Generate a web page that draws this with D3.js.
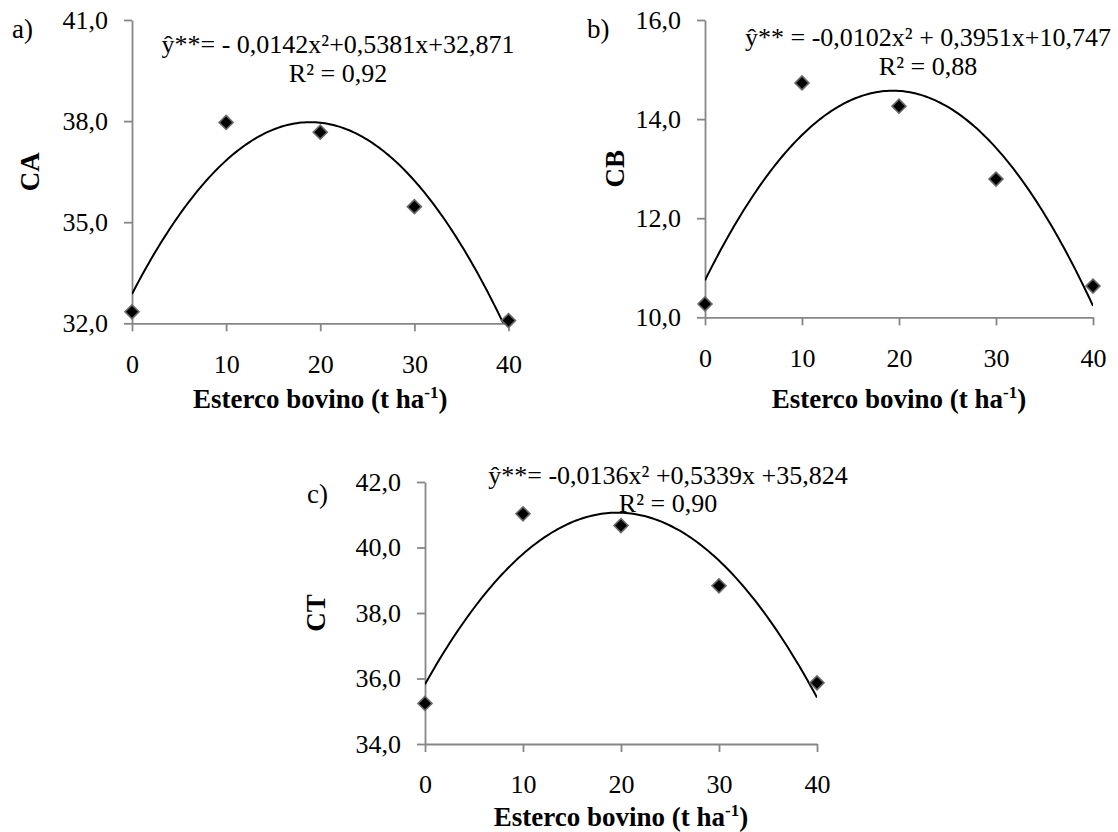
<!DOCTYPE html>
<html lang="pt">
<head>
<meta charset="UTF-8">
<title>Esterco bovino: CA, CB e CT</title>
<script src="https://d3js.org/d3.v7.min.js"></script>
<style>
    body {
        margin: 0;
        background: #fff;
    }
    svg {
        display: block;
        font-family: "Liberation Serif", "Times New Roman", serif;
    }
    .axis path, .axis line {
        stroke: #868686;
        stroke-width: 1.8;
    }
    .axis text {
        font-family: "Liberation Serif", "Times New Roman", serif;
        font-size: 26px;
        fill: #000;
    }
    .eq {
        font-size: 26px;
    }
    .title {
        font-size: 27px;
        font-weight: bold;
    }
</style>
</head>
<body>
<svg id="chart" width="1118" height="832"></svg>
<script>
    // doses of cattle manure (t/ha)
    const doses = [0, 10, 20, 30, 40];

    // values
    const caValues = [32.34, 37.96, 37.67, 35.46, 32.08];
    const cbValues = [10.27, 14.73, 14.26, 12.79, 10.63];
    const ctValues = [35.24, 41.03, 40.67, 38.83, 35.87];

    const caTicks = [32, 35, 38, 41];
    const cbTicks = [10, 12, 14, 16];
    const ctTicks = [34, 36, 38, 40, 42];

    // quadratic trend lines as printed: a*x^2 + b*x + c
    const caCoef = [-0.0142, 0.5381, 32.871];
    const cbCoef = [-0.0102, 0.3951, 10.747];
    const ctCoef = [-0.0136, 0.5339, 35.824];

    const caEquation = "ŷ**= - 0,0142x²+0,5381x+32,871";
    const cbEquation = "ŷ** = -0,0102x² + 0,3951x+10,747";
    const ctEquation = "ŷ**= -0,0136x² +0,5339x +35,824";
    const r2Labels = ["R² = 0,92", "R² = 0,88", "R² = 0,90"];

    const panels = [
        { key: "a", letter: "a)", yLabel: "CA", values: caValues, ticks: caTicks, coef: caCoef, eq: caEquation, r2: r2Labels[0] },
        { key: "b", letter: "b)", yLabel: "CB", values: cbValues, ticks: cbTicks, coef: cbCoef, eq: cbEquation, r2: r2Labels[1] },
        { key: "c", letter: "c)", yLabel: "CT", values: ctValues, ticks: ctTicks, coef: ctCoef, eq: ctEquation, r2: r2Labels[2] }
    ];

    // where each panel sits on the page
    const layout = {
        a: { left: 132, right: 508.5, top: 20, bottom: 323.3, letterX: 12, letterY: 38, eqX: 338, eqY: 53, r2Y: 82, yTitleX: 30, xTitleY: 408 },
        b: { left: 705, right: 1093, top: 20, bottom: 317.3, letterX: 587, letterY: 38, eqX: 928, eqY: 46, r2Y: 75, yTitleX: 615, xTitleY: 408 },
        c: { left: 425, right: 817, top: 482, bottom: 744, letterX: 307, letterY: 503, eqX: 668, eqY: 484, r2Y: 512, yTitleX: 316, xTitleY: 826 }
    };

    const svg = d3.select("#chart");
    svg.append("rect").attr("width", 1118).attr("height", 832).attr("fill", "#fff");

    const comma = d => d.toFixed(1).replace(".", ",");

    panels.forEach(p => {
        const L = layout[p.key];
        const yMin = d3.min(p.ticks), yMax = d3.max(p.ticks);

        const x = d3.scaleLinear().domain([0, 40]).range([L.left, L.right]);
        const y = d3.scaleLinear().domain([yMin, yMax]).range([L.bottom, L.top]);

        const g = svg.append("g");

        // clip for the trend line (it gets cut at the plot area)
        g.append("clipPath")
            .attr("id", "clip-" + p.key)
            .append("rect")
            .attr("x", L.left)
            .attr("y", L.top)
            .attr("width", L.right - L.left)
            .attr("height", L.bottom - L.top);

        g.append("g")
            .attr("class", "axis")
            .attr("transform", `translate(0,${L.bottom})`)
            .call(d3.axisBottom(x).tickValues(doses).tickSize(8).tickSizeOuter(0).tickPadding(23));

        g.append("g")
            .attr("class", "axis")
            .attr("transform", `translate(${L.left},0)`)
            .call(d3.axisLeft(y).tickValues(p.ticks).tickFormat(comma).tickSize(8).tickSizeOuter(0).tickPadding(16));

        // trend line
        const [qa, qb, qc] = p.coef;
        const curve = d3.range(0, 40.01, 0.25).map(v => [v, qa * v * v + qb * v + qc]);
        g.append("path")
            .datum(curve)
            .attr("clip-path", `url(#clip-${p.key})`)
            .attr("fill", "none")
            .attr("stroke", "#000")
            .attr("stroke-width", 2)
            .attr("d", d3.line().x(d => x(d[0])).y(d => y(d[1])));

        // diamond markers
        const diamond = d3.symbol().type(d3.symbolSquare).size(98);
        g.selectAll(".pt")
            .data(p.values)
            .enter()
            .append("path")
            .attr("class", "pt")
            .attr("d", diamond)
            .attr("transform", (d, i) => `translate(${x(doses[i])},${y(d)}) rotate(45)`)
            .attr("fill", "#000")
            .attr("stroke", "#6a6a6a")
            .attr("stroke-width", 1.6);

        // equation and R²
        g.append("text")
            .attr("class", "eq")
            .attr("x", L.eqX)
            .attr("y", L.eqY)
            .attr("text-anchor", "middle")
            .text(p.eq);
        g.append("text")
            .attr("class", "eq")
            .attr("x", L.eqX)
            .attr("y", L.r2Y)
            .attr("text-anchor", "middle")
            .text(p.r2);

        // panel letter
        g.append("text")
            .attr("class", "eq")
            .attr("x", L.letterX)
            .attr("y", L.letterY)
            .style("font-size", "27px")
            .text(p.letter);

        // y title
        const cy = (L.top + L.bottom) / 2;
        g.append("text")
            .attr("class", "title")
            .attr("transform", `translate(${L.yTitleX + 9},${cy}) rotate(-90)`)
            .attr("text-anchor", "middle")
            .text(p.yLabel);

        // x title
        const xt = g.append("text")
            .attr("class", "title")
            .attr("x", (L.left + L.right) / 2)
            .attr("y", L.xTitleY)
            .attr("text-anchor", "middle");
        xt.append("tspan").text("Esterco bovino (t ha");
        xt.append("tspan").attr("dy", -10).style("font-size", "17px").text("-1");
        xt.append("tspan").attr("dy", 10).text(")");
    });
</script>
</body>
</html>
